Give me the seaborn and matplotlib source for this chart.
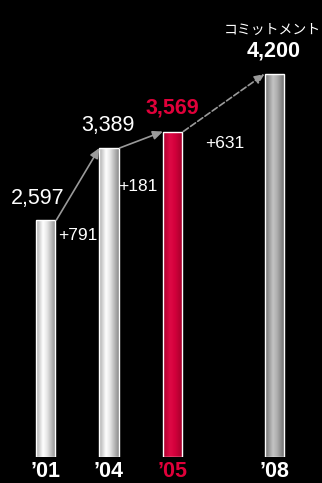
import numpy as np
import pandas as pd
import matplotlib
matplotlib.use("Agg")
import matplotlib.pyplot as plt
import seaborn as sns
from matplotlib.colors import to_rgb

# ---- data ----
years = ["\u201901", "\u201904", "\u201905", "\u201908"]
values = [2597, 3389, 3569, 4200]
diff_labels = ["+791", "+181", "+631"]
value_labels = ["2,597", "3,389", "3,569", "4,200"]
commit_label = "コミットメント"

# ---- layout / style ----
slot = [0, 1, 2, 3.6]
bar_w = 0.3
RED = "#d4003c"
RED_TXT = "#e0003a"

sns.set_theme(style="dark")
plt.rcParams["font.family"] = ["Liberation Sans", "Noto Sans CJK JP", "DejaVu Sans"]

fig = plt.figure(figsize=(3.22, 4.83), dpi=100, facecolor="black")
ax = fig.add_axes([0, 26 / 483, 1, 457 / 483])
ax.set_facecolor("black")

df = pd.DataFrame({"pos": slot, "val": values, "yr": years})
sns.barplot(data=df, x="pos", y="val", hue="yr", palette=["#dddddd", "#dddddd", RED, "#aaaaaa"],
            native_scale=True, width=bar_w, legend=False, ax=ax,
            edgecolor="white", linewidth=1.0, dodge=False)

ax.set_xlim(-45.5 / 63.5, (322 - 45.5) / 63.5)
ax.set_ylim(0, 457 / 0.0912)


def profile(stops, n=64):
    xs = np.linspace(0, 1, n)
    pts = [s[0] for s in stops]
    cols = np.array([to_rgb(s[1]) for s in stops])
    return np.stack([np.interp(xs, pts, cols[:, k]) for k in range(3)], axis=-1)


silver = profile([(0, "#a8a8a8"), (0.35, "#ffffff"), (0.55, "#e8e8e8"), (1, "#8c8c8c")])
red = profile([(0, "#a8002c"), (0.35, "#de0a45"), (0.6, "#d4003c"), (1, "#a0002a")])
gray = profile([(0, "#6e6e6e"), (0.4, "#c4c4c4"), (0.6, "#b0b0b0"), (1, "#6a6a6a")])
grads = [silver, silver, red, gray]

patches = sorted(ax.patches, key=lambda p: p.get_x())
for p, g in zip(patches, grads):
    x0, w, h = p.get_x(), p.get_width(), p.get_height()
    im = ax.imshow(g[np.newaxis, :, :], extent=[x0, x0 + w, 0, h], aspect="auto",
                   zorder=1.5, interpolation="bilinear")
    im.set_clip_path(p)
    p.set_zorder(2)
    p.set_facecolor("none")

# arrows between bar tops
for i in range(3):
    x_start = slot[i] + bar_w / 2
    x_end = slot[i + 1] - bar_w / 2
    ls = "--" if i == 2 else "-"
    ax.annotate("", xy=(x_end, values[i + 1]), xytext=(x_start + 0.02, values[i]),
                arrowprops=dict(arrowstyle="-|>,head_length=0.5,head_width=0.22", color="#9a9a9a",
                                lw=1.2, linestyle=ls, shrinkA=0, shrinkB=0), zorder=3)

# value labels
px = 1 / 63.5
py = 1 / 0.0912
ax.text(slot[0] - 8 * px, values[0] + 22 * py, value_labels[0], color="white", fontsize=15.5,
        ha="center", va="center")
ax.text(slot[1] - 1 * px, values[1] + 22 * py, value_labels[1], color="white", fontsize=15.5,
        ha="center", va="center")
ax.text(slot[2], values[2] + 24 * py, value_labels[2], color=RED_TXT, fontsize=15.5,
        fontweight="bold", ha="center", va="center")
ax.text(slot[3], values[3] + 23 * py, value_labels[3], color="white", fontsize=15.5,
        fontweight="bold", ha="center", va="center")
ax.text(slot[3] - 1.5 * px, values[3] + 44 * py, commit_label, color="white", fontsize=10,
        ha="center", va="center")

# difference labels
ax.text(slot[0] + 32.5 * px, values[0] - 15 * py, diff_labels[0], color="white", fontsize=12.5,
        ha="center", va="center")
ax.text(slot[1] + 29 * px, values[1] - 39 * py, diff_labels[1], color="white", fontsize=12.5,
        ha="center", va="center")
ax.text(slot[2] + 52.5 * px, values[2] - 12 * py, diff_labels[2], color="white", fontsize=12.5,
        ha="center", va="center")

# x tick labels
ax.set_xticks(slot)
ax.set_xticklabels(years, fontsize=15.5, fontweight="bold")
for lbl, c in zip(ax.get_xticklabels(), ["white", "white", RED_TXT, "white"]):
    lbl.set_color(c)
ax.tick_params(axis="x", length=0, pad=3)
ax.set_yticks([])
ax.set_xlabel("")
ax.set_ylabel("")
ax.grid(False)
for s in ax.spines.values():
    s.set_visible(False)

fig.savefig("out.png", dpi=100, facecolor="black")
